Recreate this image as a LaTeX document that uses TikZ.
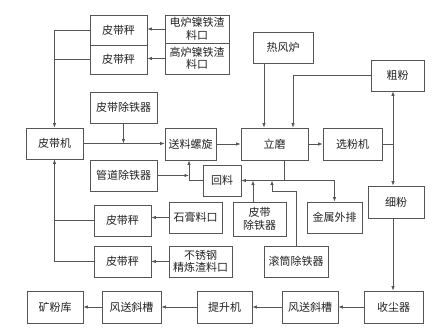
\documentclass[tikz,border=0pt]{standalone}
\usepackage{fontspec}
\setmainfont{Noto Sans CJK SC}
\usetikzlibrary{arrows.meta}
\definecolor{ln}{HTML}{555555}
\definecolor{tx}{HTML}{222222}
\begin{document}
\begin{tikzpicture}[x=1pt,y=-1pt,
  box/.style={draw=ln,line width=0.8pt,inner sep=0pt,align=center,text=tx,
    font=\fontsize{11}{12.5}\selectfont},
  con/.style={draw=ln,line width=0.8pt},
  arr/.style={con,-{Latex[length=4.5pt,width=3.5pt]}},
  arrb/.style={con,{Latex[length=4.5pt,width=3.5pt]}-{Latex[length=4.5pt,width=3.5pt]}}]
\useasboundingbox (0,0) rectangle (440,332);
% boxes
\node[box,minimum width=57pt,minimum height=30pt] (bc1) at (118.5,30) {皮带秤};
\node[box,minimum width=57pt,minimum height=29pt] (bc2) at (118.5,59.5) {皮带秤};
\node[box,minimum width=64pt,minimum height=28pt] (dl) at (197,29) {电炉镍铁渣\\料口};
\node[box,minimum width=64pt,minimum height=31pt] (gl) at (197,58.5) {高炉镍铁渣\\料口};
\node[box,minimum width=67pt,minimum height=31pt] (pdc) at (123.5,107.5) {皮带除铁器};
\node[box,minimum width=57pt,minimum height=31pt] (pcm) at (54.5,143.5) {皮带机};
\node[box,minimum width=51pt,minimum height=32pt] (slx) at (190.5,144) {送料螺旋};
\node[box,minimum width=67pt,minimum height=32pt] (lm) at (274.5,144) {立磨};
\node[box,minimum width=59pt,minimum height=32pt] (xfj) at (352.5,144) {选粉机};
\node[box,minimum width=60pt,minimum height=31pt] (rfl) at (283,47.5) {热风炉};
\node[box,minimum width=53pt,minimum height=31pt] (cf) at (397.5,75.5) {粗粉};
\node[box,minimum width=56pt,minimum height=32pt] (xf) at (396,202) {细粉};
\node[box,minimum width=67pt,minimum height=31pt] (gd) at (123.5,175.5) {管道除铁器};
\node[box,minimum width=38pt,minimum height=31pt] (hl) at (222,180.5) {回料};
\node[box,minimum width=53pt,minimum height=34pt] (pd2) at (259.5,219) {皮带\\除铁器};
\node[box,minimum width=55pt,minimum height=31pt] (jswp) at (334.5,217.5) {金属外排};
\node[box,minimum width=64pt,minimum height=31pt] (gt) at (296,261.5) {滚筒除铁器};
\node[box,minimum width=57pt,minimum height=31pt] (bc3) at (122.5,220.5) {皮带秤};
\node[box,minimum width=53pt,minimum height=31pt] (sg) at (195.5,217.5) {石膏料口};
\node[box,minimum width=57pt,minimum height=31pt] (bc4) at (122.5,261.5) {皮带秤};
\node[box,minimum width=63pt,minimum height=31pt] (bx) at (200.5,261.5) {不锈钢\\精炼渣料口};
\node[box,minimum width=59pt,minimum height=32pt] (scq) at (393.5,307) {收尘器};
\node[box,minimum width=56pt,minimum height=32pt] (fs2) at (310,307) {风送斜槽};
\node[box,minimum width=55pt,minimum height=32pt] (tsj) at (224.5,307) {提升机};
\node[box,minimum width=59pt,minimum height=32pt] (fs1) at (131.5,307) {风送斜槽};
\node[box,minimum width=56pt,minimum height=32pt] (kfk) at (55,307) {矿粉库};
% helper coordinates
\coordinate (h1) at (264,0);
\coordinate (h2) at (293,0);
\coordinate (v) at (393,0);
\coordinate (j) at (189,0);
\coordinate (k) at (284,0);
\coordinate (p) at (253,0);
\coordinate (q) at (272,191);
% connectors
\draw[arr] (dl.west) -- (dl.west -| bc1.east);
\draw[arr] (gl.west) -- (gl.west -| bc2.east);
\draw[arr] (bc1.west) -| (pcm.north);
\draw[con] (bc2.west) -- (bc2.west -| pcm.north);
\draw[arr] (bc4.west) -| (pcm.south);
\draw[con] (bc3.west) -- (bc3.west -| pcm.south);
\draw[arr] (sg.west) -- (sg.west -| bc3.east);
\draw[arr] (bx.west) -- (bx.west -| bc4.east);
\draw[arr] (pcm.east) -- (pcm.east -| slx.west);
\draw[arr] (pdc.south) -- (pdc.south |- pcm.east);
\draw[arr] (slx.east |- lm.west) -- (lm.west);
\draw[arr] (lm.east) -- (xfj.west);
\draw[arr] (rfl.south -| h1) -- (lm.north -| h1);
\draw[arr] (cf.west) -| (lm.north -| h2);
\draw[arrb] (cf.south -| v) -- (xf.north -| v);
\draw[con] (xfj.east) -- (xfj.east -| v);
\draw[arr] (xf.south -| v) -- (scq.north -| v);
\draw[arr] (scq.west) -- (fs2.east);
\draw[arr] (fs2.west) -- (tsj.east);
\draw[arr] (tsj.west) -- (fs1.east);
\draw[arr] (fs1.west) -- (kfk.east);
\draw[arr] (hl.west) -| (slx.south -| j);
\draw[arr] (gd.east) -- (gd.east -| j);
\draw[con] (lm.south -| k) -- (k |- hl.east);
\draw[arr] (jswp.north |- hl.east) -- (hl.east);
\draw[arr] (jswp.north |- hl.east) -- (jswp.north);
\draw[arr] (pd2.north -| p) -- (p |- hl.east);
\draw[arr] (gt.north) |- (q) -- (q |- hl.east);
\end{tikzpicture}
\end{document}
